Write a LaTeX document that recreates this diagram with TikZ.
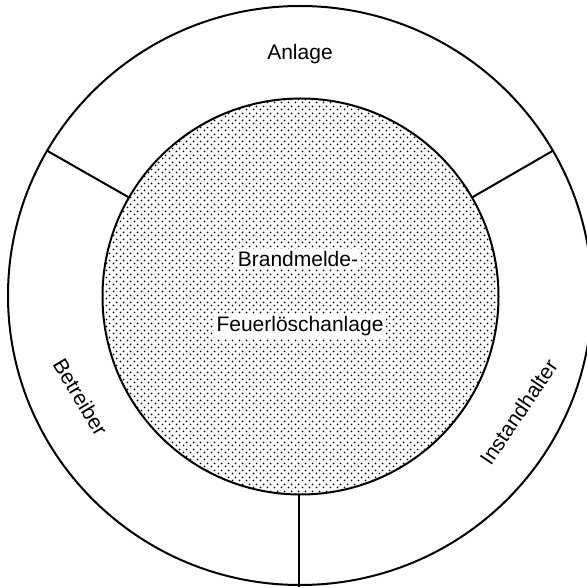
\documentclass[tikz,border=0pt]{standalone}
\usepackage{fontspec}
\setmainfont{Liberation Sans}
\usetikzlibrary{patterns,calc}
\pgfdeclarepatternformonly{scandots}{\pgfpointorigin}{\pgfpoint{7pt}{7pt}}{\pgfpoint{7pt}{7pt}}{%
  \pgfpathcircle{\pgfpoint{1.75pt}{1.75pt}}{1.1pt}%
  \pgfpathcircle{\pgfpoint{5.25pt}{5.25pt}}{1.1pt}%
  \pgfusepath{fill}}
\tikzset{
  ring/.style={line width=2pt},
  sep/.style={line width=2pt},
  lbl/.style={font=\fontsize{21}{25}\selectfont, inner sep=0pt},
  corelbl/.style={lbl, fill=white, inner sep=2.5pt}
}
\begin{document}
\begin{tikzpicture}[x=1pt,y=1pt]
\useasboundingbox (0,0) rectangle (587,587);
\clip (0,0) rectangle (587,587);
\coordinate (oc) at (300,291.5);
\coordinate (ic) at (300.5,290.5);
% outer ring
\draw[ring] (oc) ellipse [x radius=292, y radius=289.5];
% inner dotted core
\fill[white] (ic) circle (198);
\fill[pattern=scandots] (ic) circle (198);
\draw[ring] (ic) circle (198);
% separators
\coordinate (i150) at ($(ic)+(150:198)$);
\coordinate (o150) at ($(oc)+(150:292 and 289.5)$);
\coordinate (i30) at ($(ic)+(30:198)$);
\coordinate (o30) at ($(oc)+(30:292 and 289.5)$);
\coordinate (i270) at (299.3,92.5);
\coordinate (o270) at (299.3,0);
\draw[sep] (i150) -- (o150);
\draw[sep] (i30) -- (o30);
\draw[sep] (i270) -- (o270);
% labels
\node[lbl, anchor=base] (anlage) at (300,527) {Anlage};
\node[corelbl, anchor=base] (brand) at (298,320.3) {Brandmelde-};
\node[corelbl, anchor=base] (feuer) at (300,255.3) {Feuerlöschanlage};
\node[lbl, rotate=-59] (betreiber) at (80.5,190) {Betreiber};
\node[lbl, rotate=56] (instand) at (518.5,175) {Instandhalter};
\end{tikzpicture}
\end{document}
